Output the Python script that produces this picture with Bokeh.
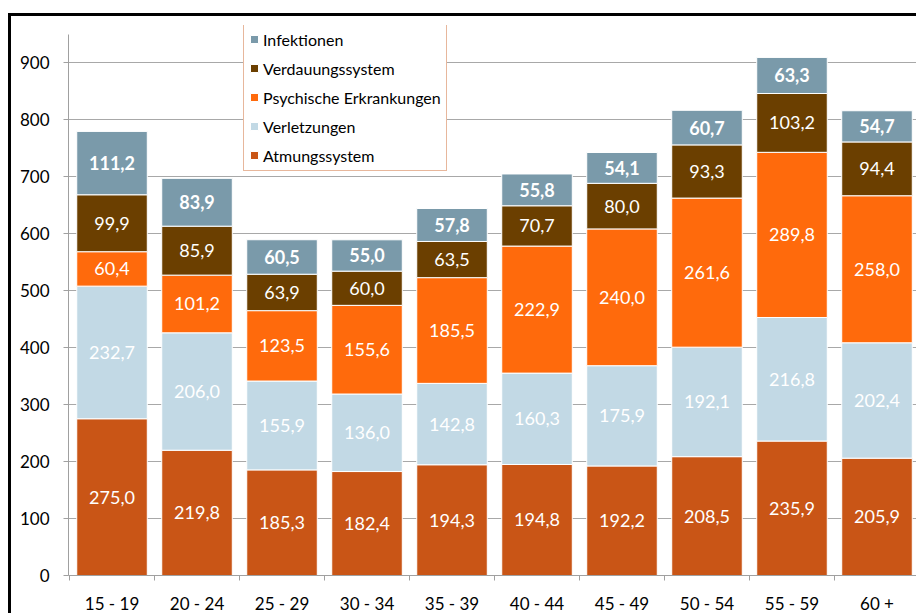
import numpy as np
from bokeh.plotting import figure
from bokeh.models import ColumnDataSource, FixedTicker, Legend, LegendItem, Range1d
from bokeh.embed import file_html
from bokeh.resources import INLINE
from bokeh.core.properties import value

categories = ["15 - 19", "20 - 24", "25 - 29", "30 - 34", "35 - 39",
              "40 - 44", "45 - 49", "50 - 54", "55 - 59", "60 +"]
atmungssystem = [275.0, 219.8, 185.3, 182.4, 194.3, 194.8, 192.2, 208.5, 235.9, 205.9]
verletzungen = [232.7, 206.0, 155.9, 136.0, 142.8, 160.3, 175.9, 192.1, 216.8, 202.4]
psychische = [60.4, 101.2, 123.5, 155.6, 185.5, 222.9, 240.0, 261.6, 289.8, 258.0]
verdauung = [99.9, 85.9, 63.9, 60.0, 63.5, 70.7, 80.0, 93.3, 103.2, 94.4]
infektionen = [111.2, 83.9, 60.5, 55.0, 57.8, 55.8, 54.1, 60.7, 63.3, 54.7]

series_names = ["Atmungssystem", "Verletzungen", "Psychische Erkrankungen",
                "Verdauungssystem", "Infektionen"]
series_values = [atmungssystem, verletzungen, psychische, verdauung, infektionen]
series_colors = ["#C95516", "#C2D9E5", "#FF6A0C", "#6B3F00", "#7A9AAA"]
y_ticks = [0, 100, 200, 300, 400, 500, 600, 700, 800, 900]

FONT = "Lato"

p = figure(width=908, height=600, output_backend="svg", toolbar_location=None,
           x_range=Range1d(-0.512, 9.50), y_range=Range1d(0, 965),
           min_border_left=57, min_border_right=0, min_border_top=9,
           min_border_bottom=41)
p.margin = (13, 0, 0, 8)
p.styles = {"border-left": "3px solid black", "border-top": "3px solid black"}
p.outline_line_color = None
p.background_fill_color = "white"
p.border_fill_color = "white"

x = np.arange(len(categories))
bottom = np.zeros(len(categories))
renderers = {}
for name, vals, col in zip(series_names, series_values, series_colors):
    vals = np.array(vals)
    top = bottom + vals
    src = ColumnDataSource(dict(
        x=x, bottom=bottom.copy(), top=top, mid=bottom + vals / 2,
        lab=[f"{v:.1f}".replace(".", ",") for v in vals]))
    r = p.vbar(x="x", width=0.83, bottom="bottom", top="top", source=src,
               fill_color=col, line_color="white", line_width=1)
    renderers[name] = r
    p.text(x="x", y="mid", text="lab", source=src, text_color="white",
           text_font=value(FONT), text_font_size="18px",
           text_font_style="bold" if name == "Infektionen" else "normal",
           text_align="center", text_baseline="middle")
    bottom = top

# grid
p.xgrid.grid_line_color = None
p.ygrid.grid_line_color = "#A8A8A8"
p.ygrid.grid_line_width = 1
p.yaxis.ticker = FixedTicker(ticks=y_ticks)

# y axis
p.yaxis.bounds = (0, 949)
p.yaxis.axis_line_color = "#A0A0A0"
p.yaxis.major_tick_line_color = "#A0A0A0"
p.yaxis.major_tick_out = 5
p.yaxis.major_tick_in = 0
p.yaxis.minor_tick_line_color = None
p.yaxis.major_label_standoff = 14
p.yaxis.major_label_text_font = FONT
p.yaxis.major_label_text_font_size = "17px"
p.yaxis.major_label_text_color = "black"

# x axis
p.xaxis.ticker = FixedTicker(ticks=list(range(len(categories))),
                             minor_ticks=[i - 0.5 for i in range(len(categories) + 1)])
p.xaxis.major_label_overrides = {i: c for i, c in enumerate(categories)}
p.xaxis.axis_line_color = "#A0A0A0"
p.xaxis.major_tick_line_color = None
p.xaxis.major_tick_out = 0
p.xaxis.major_tick_in = 0
p.xaxis.minor_tick_line_color = "#A0A0A0"
p.xaxis.minor_tick_out = 5
p.xaxis.minor_tick_in = 0
p.xaxis.major_label_standoff = 12
p.xaxis.major_label_text_font = FONT
p.xaxis.major_label_text_font_size = "17px"
p.xaxis.major_label_text_color = "black"

legend = Legend(
    items=[LegendItem(label=n, renderers=[renderers[n]]) for n in reversed(series_names)],
    location=(175, 404), orientation="vertical",
    border_line_color="#D0703A", border_line_width=1,
    background_fill_color="white", background_fill_alpha=1.0,
    glyph_width=10, glyph_height=10, label_height=20, label_standoff=4,
    spacing=9, padding=5, margin=0,
    label_text_font=FONT, label_text_font_size="16px", label_text_color="black")
p.add_layout(legend)

open("out.html", "w").write(file_html(p, INLINE))
